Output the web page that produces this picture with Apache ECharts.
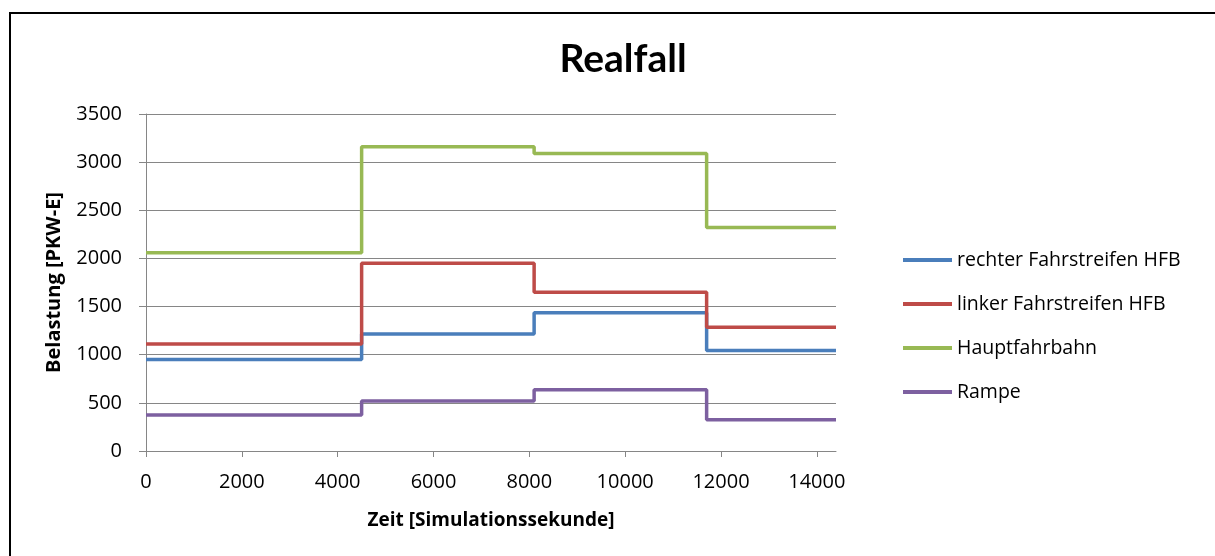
<!DOCTYPE html>
<html>
<head>
<meta charset="utf-8">
<script src="https://cdn.jsdelivr.net/npm/echarts@6/dist/echarts.min.js"></script>
<style>
  html, body { margin: 0; padding: 0; background: #fff; }
  #frame { position: absolute; left: 9px; top: 12px; width: 1215px; height: 560px;
           border-left: 2px solid #000; border-top: 2px solid #000; box-sizing: border-box; }
  #chart { position: absolute; left: 0; top: 0; width: 1215px; height: 556px; }
</style>
</head>
<body>
<div id="frame"></div>
<div id="chart"></div>
<script>
// Time breakpoints in simulation seconds (each value holds until the next breakpoint)
const timePoints = [0, 4500, 8100, 11700, 14400];

const seriesNames = ['rechter Fahrstreifen HFB', 'linker Fahrstreifen HFB', 'Hauptfahrbahn', 'Rampe'];
const rechterFahrstreifen = [950, 1215, 1435, 1045, 1045];
const linkerFahrstreifen  = [1110, 1950, 1650, 1285, 1285];
const hauptfahrbahn       = [2060, 3160, 3090, 2320, 2320];
const rampe               = [375, 520, 635, 325, 325];

const colors = ['#4A7EBB', '#BE4B48', '#98B954', '#7D60A0'];
const allValues = [rechterFahrstreifen, linkerFahrstreifen, hauptfahrbahn, rampe];

const font = '"Open Sans", Lato, sans-serif';
const plain = v => String(v);

const chart = echarts.init(document.getElementById('chart'), null, { renderer: 'canvas' });

chart.setOption({
  animation: false,
  title: {
    text: 'Realfall',
    left: 618, top: 35, textAlign: 'center',
    textStyle: { fontFamily: 'Lato, sans-serif', fontSize: 39, fontWeight: 'bold', color: '#000' }
  },
  grid: { left: 146, top: 114, right: 379, bottom: 105, containLabel: false },
  legend: {
    orient: 'vertical',
    left: 903, top: 250, padding: 0,
    itemWidth: 49, itemHeight: 4, itemGap: 24,
    icon: 'rect',
    textStyle: { fontFamily: font, fontSize: 19.5, color: '#000' },
    data: seriesNames
  },
  xAxis: {
    type: 'value',
    min: 0, max: 14400, interval: 2000,
    name: 'Zeit [Simulationssekunde]',
    nameLocation: 'middle', nameGap: 60,
    nameTextStyle: { fontFamily: font, fontSize: 19, fontWeight: 'bold', color: '#000' },
    axisLine: { show: true, lineStyle: { color: '#868686', width: 1 } },
    axisTick: { show: true, length: 6, inside: false, lineStyle: { color: '#868686' } },
    axisLabel: { fontFamily: font, fontSize: 20, color: '#000', margin: 21, showMaxLabel: false, formatter: plain },
    splitLine: { show: false }
  },
  yAxis: {
    type: 'value',
    min: 0, max: 3500, interval: 500,
    name: 'Belastung [PKW-E]',
    nameLocation: 'middle', nameGap: 82,
    nameTextStyle: { fontFamily: font, fontSize: 20, fontWeight: 'bold', color: '#000' },
    axisLine: { show: true, lineStyle: { color: '#868686', width: 1 } },
    axisTick: { show: true, length: 7, inside: false, lineStyle: { color: '#868686' } },
    axisLabel: { fontFamily: font, fontSize: 20, color: '#000', margin: 24, formatter: plain },
    splitLine: { show: true, lineStyle: { color: '#868686', width: 1 } }
  },
  series: seriesNames.map((name, i) => ({
    name: name,
    type: 'line',
    step: 'end',
    symbol: 'none',
    color: colors[i],
    lineStyle: { width: 3.5, color: colors[i] },
    data: timePoints.map((t, j) => [t, allValues[i][j]])
  }))
});
</script>
</body>
</html>
